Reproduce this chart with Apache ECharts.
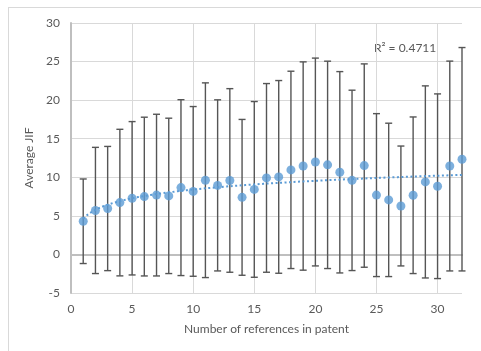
<!DOCTYPE html>
<html>
<head>
<meta charset="utf-8">
<script src="https://cdn.jsdelivr.net/npm/echarts@6/dist/echarts.min.js"></script>
<style>
  html, body { margin: 0; padding: 0; background: #fff; }
  #frame { position: absolute; left: 8px; top: 7px; width: 490px; height: 360px; border: 1px solid #d9d9d9; box-sizing: border-box; }
  #chart { position: absolute; left: 0; top: 0; width: 481px; height: 351px; }
</style>
</head>
<body>
<div id="frame"></div>
<div id="chart"></div>
<script>
// Number of references in a patent
const refCounts = [1,2,3,4,5,6,7,8,9,10,11,12,13,14,15,16,17,18,19,20,21,22,23,24,25,26,27,28,29,30,31,32];
// Average journal impact factor for each reference count
const avgJIF = [4.30,5.70,5.95,6.72,7.28,7.50,7.69,7.59,8.66,8.17,9.62,8.95,9.59,7.40,8.43,9.92,
                10.05,10.96,11.46,11.98,11.61,10.65,9.60,11.52,7.69,7.07,6.28,7.67,9.40,8.84,11.46,12.34];
// Standard deviation shown as error bars
const sdJIF = [5.48,8.18,8.05,9.50,9.94,10.29,10.48,10.07,11.40,11.00,12.62,11.09,11.90,10.10,11.39,12.23,
               12.49,12.79,13.50,13.47,13.44,13.05,11.69,13.18,10.56,9.94,7.77,10.15,12.45,11.97,13.60,14.48];
const rSquaredLabel = 'R\u00b2 = 0.4711';

// Logarithmic least-squares trend: y = a*ln(x) + b
const lx = refCounts.map(Math.log);
const n = lx.length;
const mx = lx.reduce((s, v) => s + v, 0) / n;
const my = avgJIF.reduce((s, v) => s + v, 0) / n;
let sxy = 0, sxx = 0;
for (let i = 0; i < n; i++) { sxy += (lx[i] - mx) * (avgJIF[i] - my); sxx += (lx[i] - mx) ** 2; }
const slope = sxy / sxx, intercept = my - slope * mx;
const trend = [];
for (let x = 1; x <= 32.0001; x += 0.25) trend.push([x, slope * Math.log(x) + intercept]);

const points = refCounts.map((x, i) => [x, avgJIF[i]]);
const bars = refCounts.map((x, i) => [x, avgJIF[i] - sdJIF[i], avgJIF[i] + sdJIF[i]]);

const FONT = 'Lato';
const TXT = '#595959';

const chart = echarts.init(document.getElementById('chart'), null, { renderer: 'canvas' });
chart.setOption({
  animation: false,
  backgroundColor: 'transparent',
  textStyle: { fontFamily: FONT },
  grid: { left: 71, right: 19, top: 23, bottom: 58, containLabel: false },
  xAxis: {
    type: 'value', min: 0, max: 32, interval: 5,
    name: 'Number of references in patent', nameLocation: 'middle', nameGap: 30,
    nameTextStyle: { color: TXT, fontSize: 12, fontFamily: FONT },
    axisLine: { show: true, lineStyle: { color: '#bfbfbf', width: 2 } },
    axisTick: { show: false },
    axisLabel: { color: TXT, fontSize: 12, fontFamily: FONT, margin: 10, showMaxLabel: false },
    splitLine: { show: true, showMaxLine: false, lineStyle: { color: '#d9d9d9', width: 1 } }
  },
  yAxis: {
    type: 'value', min: -5, max: 30, interval: 5,
    name: 'Average JIF', nameLocation: 'middle', nameGap: 29, nameRotate: 90,
    nameTextStyle: { color: TXT, fontSize: 12, fontFamily: FONT },
    axisLine: { show: true, onZero: false, lineStyle: { color: '#bfbfbf', width: 2 } },
    axisTick: { show: false },
    axisLabel: { color: TXT, fontSize: 12, fontFamily: FONT, margin: 11 },
    splitLine: { show: true, lineStyle: { color: '#d9d9d9', width: 1 } }
  },
  series: [
    {
      type: 'custom',
      data: bars,
      z: 2,
      silent: true,
      renderItem: function (params, api) {
        const x = api.value(0);
        const lo = api.coord([x, api.value(1)]);
        const hi = api.coord([x, api.value(2)]);
        const half = 3.5;
        const style = { stroke: '#555555', lineWidth: 1.4 };
        return {
          type: 'group',
          children: [
            { type: 'line', shape: { x1: hi[0], y1: hi[1], x2: lo[0], y2: lo[1] }, style },
            { type: 'line', shape: { x1: hi[0] - half, y1: hi[1], x2: hi[0] + half, y2: hi[1] }, style },
            { type: 'line', shape: { x1: lo[0] - half, y1: lo[1], x2: lo[0] + half, y2: lo[1] }, style }
          ]
        };
      }
    },
    {
      type: 'line',
      data: trend,
      showSymbol: false,
      smooth: false,
      z: 3,
      lineStyle: { color: '#5b9bd5', width: 2, type: [2, 2.5] }
    },
    {
      type: 'scatter',
      data: points,
      symbol: 'circle',
      symbolSize: 9,
      z: 4,
      itemStyle: { color: '#5b9bd5' }
    }
  ],
  graphic: [
    {
      type: 'text', left: 374, top: 42,
      style: { text: rSquaredLabel, fill: TXT, fontSize: 12, fontFamily: FONT }
    }
  ]
});
</script>
</body>
</html>
